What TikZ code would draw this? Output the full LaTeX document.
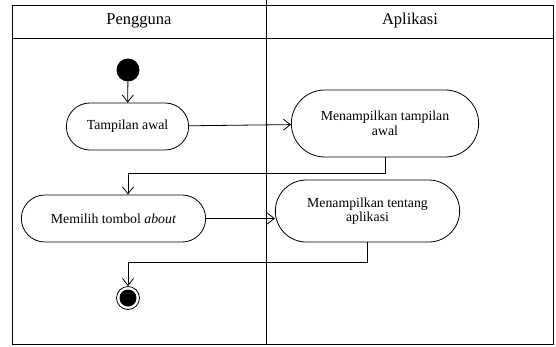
\documentclass[tikz,border=0pt]{standalone}
\usepackage{fontspec}
\setmainfont{Liberation Serif}
\usetikzlibrary{shapes.misc, arrows.meta, positioning}

\begin{document}
\begin{tikzpicture}[x=1pt,y=-1pt,line width=0.8pt,
    act/.style={draw,rounded rectangle,align=center,font=\fontsize{13.8}{14.5}\selectfont},
    flow/.style={draw=black,-{Straight Barb[length=7pt,width=11pt]}}]
        \useasboundingbox (0,0) rectangle (556,346);
        % lanes
        \draw (12,5) rectangle (553,344);
        \draw (12,38) -- (553,38);
        \draw (266,0) -- (266,344);
        \node[font=\fontsize{16.5}{17}\selectfont] (lane1) at (139,21) {Pengguna};
        \node[font=\fontsize{16.5}{17}\selectfont] (lane2) at (410,21) {Aplikasi};
        \begin{scope}
          \node[circle,fill=black,inner sep=0pt,minimum size=23pt] (start) at (128,70) {};
          \node[act,minimum width=129pt,minimum height=47pt] (awal) at (127.5,126.5) {Tampilan awal};
          \node[act,minimum width=194pt,minimum height=67pt] (showawal) at (385,123.5) {Menampilkan tampilan\\awal};
          \node[act,minimum width=191pt,minimum height=47pt] (about) at (113.5,218.5) {Memilih tombol \textit{about}};
          \node[act,minimum width=191pt,minimum height=62pt] (showabout) at (367.5,211) {Menampilkan tentang\\aplikasi};
          \node[circle,draw,inner sep=0pt,minimum size=23pt] (end) at (128,298) {};
          \node[circle,fill=black,inner sep=0pt,minimum size=17pt] (endin) at (end) {};
          \coordinate (bend1) at (128,173);
          \coordinate (bend2) at (128,262);
        \end{scope}
        \begin{scope}[every edge/.style={flow}]
          \path (start) edge (awal);
          \path (awal) edge (showawal);
          \path (about.east) edge (about.east -| showabout.west);
          \draw (showawal.south) |- (bend1);
          \path (bend1) edge (bend1 |- about.north);
          \draw (showabout.south) |- (bend2);
          \path (bend2) edge (end);
        \end{scope}
      \end{tikzpicture}
\end{document}
